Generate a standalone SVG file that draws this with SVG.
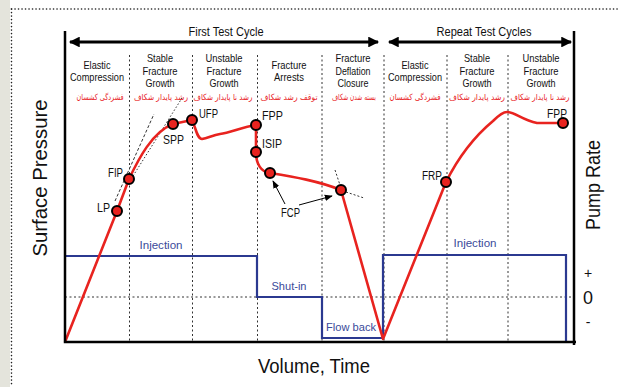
<svg xmlns="http://www.w3.org/2000/svg" width="619" height="387" viewBox="0 0 619 387">
  <defs>
    <marker id="head" viewBox="0 0 10 10" refX="9" refY="5" markerWidth="4" markerHeight="3.6" orient="auto-start-reverse" markerUnits="strokeWidth">
      <path d="M0,0 L10,5 L0,10 Z" fill="#000"/>
    </marker>
    <marker id="smallhead" viewBox="0 0 10 10" refX="9" refY="5" markerWidth="8" markerHeight="8" orient="auto" markerUnits="userSpaceOnUse">
      <path d="M0,1 L10,5 L0,9 Z" fill="#000"/>
    </marker>
  </defs>
  <style>
    .txt { font-family: "Liberation Sans Narrow", "Liberation Sans", Arial, sans-serif; fill: #111; }
    .col { font-size: 10.5px; text-anchor: middle; }
    .fa { font-family: "DejaVu Sans", "Noto Sans", sans-serif; font-size: 8.5px; fill: #e8231f; text-anchor: middle; }
    .pt { font-size: 12.5px; }
    .blue { font-size: 11.5px; fill: #3a4a9a; text-anchor: middle; }
    .axis { fill: none; stroke: #000; stroke-width: 2.5; }
    .div { fill: none; stroke: #333; stroke-width: 1; stroke-dasharray: 2 2.5; }
    .curve { fill: none; stroke: #e8231f; stroke-width: 2.6; stroke-linejoin: round; }
    .rate { fill: none; stroke: #2b3990; stroke-width: 2.2; }
    .dot { fill: #e8231f; stroke: #000; stroke-width: 2; }
    .tan { fill: none; stroke: #333; stroke-width: 1; }
    .span { fill: none; stroke: #000; stroke-width: 3; marker-start: url(#head); marker-end: url(#head); }
  </style>

  <!-- page background and dotted frame -->
  <rect x="0" y="0" width="619" height="387" fill="#fff"/>
  <rect x="0" y="0" width="10" height="387" fill="#e4e4dc"/>
  <line x1="11.5" y1="9" x2="11.5" y2="387" stroke="#222" stroke-width="1.6" stroke-dasharray="0.1 3.4" stroke-linecap="round"/>
  <line x1="11.5" y1="9" x2="619" y2="9" stroke="#222" stroke-width="1.6" stroke-dasharray="0.1 3.4" stroke-linecap="round"/>

  <!-- stage dividers -->
  <g id="dividers">
    <line class="div" x1="129.5" y1="55" x2="129.5" y2="342"/>
    <line class="div" x1="192.5" y1="55" x2="192.5" y2="342"/>
    <line class="div" x1="257.5" y1="55" x2="257.5" y2="342"/>
    <line class="div" x1="322" y1="55" x2="322" y2="342"/>
    <line class="div" x1="384" y1="55" x2="384" y2="342"/>
    <line class="div" x1="447" y1="55" x2="447" y2="342"/>
    <line class="div" x1="508" y1="55" x2="508" y2="342"/>
    <line class="div" x1="65" y1="297" x2="574" y2="297" stroke="#000"/>
  </g>

  <!-- cycle spans -->
  <g id="cycles">
    <line class="span" x1="70" y1="42" x2="378" y2="42"/>
    <text class="txt" x="226" y="36" font-size="13" text-anchor="middle" textLength="75" lengthAdjust="spacingAndGlyphs">First Test Cycle</text>
    <line class="span" x1="389" y1="42" x2="571" y2="42"/>
    <text class="txt" x="484" y="36" font-size="13" text-anchor="middle" textLength="95" lengthAdjust="spacingAndGlyphs">Repeat Test Cycles</text>
  </g>

  <!-- stage labels -->
  <g id="stages">
    <text class="txt col" x="97" y="69" textLength="27" lengthAdjust="spacingAndGlyphs">Elastic</text>
    <text class="txt col" x="97" y="81" textLength="54" lengthAdjust="spacingAndGlyphs">Compression</text>
    <text class="fa" x="100" y="100" textLength="47" lengthAdjust="spacingAndGlyphs">فشردگی کشسان</text>

    <text class="txt col" x="160" y="62" textLength="26" lengthAdjust="spacingAndGlyphs">Stable</text>
    <text class="txt col" x="160" y="75" textLength="35" lengthAdjust="spacingAndGlyphs">Fracture</text>
    <text class="txt col" x="160" y="87" textLength="29" lengthAdjust="spacingAndGlyphs">Growth</text>
    <text class="fa" x="161" y="100" textLength="54" lengthAdjust="spacingAndGlyphs">رشد پایدار شکاف</text>

    <text class="txt col" x="224" y="62" textLength="37" lengthAdjust="spacingAndGlyphs">Unstable</text>
    <text class="txt col" x="224" y="75" textLength="35" lengthAdjust="spacingAndGlyphs">Fracture</text>
    <text class="txt col" x="224" y="87" textLength="29" lengthAdjust="spacingAndGlyphs">Growth</text>
    <text class="fa" x="223" y="100" textLength="59" lengthAdjust="spacingAndGlyphs">رشد نا پایدار شکاف</text>

    <text class="txt col" x="289" y="69" textLength="35" lengthAdjust="spacingAndGlyphs">Fracture</text>
    <text class="txt col" x="289" y="81" textLength="30" lengthAdjust="spacingAndGlyphs">Arrests</text>
    <text class="fa" x="289" y="100" textLength="57" lengthAdjust="spacingAndGlyphs">توقف رشد شکاف</text>

    <text class="txt col" x="353" y="62" textLength="35" lengthAdjust="spacingAndGlyphs">Fracture</text>
    <text class="txt col" x="353" y="75" textLength="35" lengthAdjust="spacingAndGlyphs">Deflation</text>
    <text class="txt col" x="353" y="87" textLength="31" lengthAdjust="spacingAndGlyphs">Closure</text>
    <text class="fa" x="354" y="100" textLength="44" lengthAdjust="spacingAndGlyphs">بسته شدن شکاف</text>

    <text class="txt col" x="415" y="69" textLength="27" lengthAdjust="spacingAndGlyphs">Elastic</text>
    <text class="txt col" x="415" y="81" textLength="54" lengthAdjust="spacingAndGlyphs">Compression</text>
    <text class="fa" x="415" y="100" textLength="51" lengthAdjust="spacingAndGlyphs">فشردگی کشسان</text>

    <text class="txt col" x="477" y="62" textLength="26" lengthAdjust="spacingAndGlyphs">Stable</text>
    <text class="txt col" x="477" y="75" textLength="35" lengthAdjust="spacingAndGlyphs">Fracture</text>
    <text class="txt col" x="477" y="87" textLength="29" lengthAdjust="spacingAndGlyphs">Growth</text>
    <text class="fa" x="477" y="100" textLength="56" lengthAdjust="spacingAndGlyphs">رشد پایدار شکاف</text>

    <text class="txt col" x="541" y="62" textLength="37" lengthAdjust="spacingAndGlyphs">Unstable</text>
    <text class="txt col" x="541" y="75" textLength="35" lengthAdjust="spacingAndGlyphs">Fracture</text>
    <text class="txt col" x="541" y="87" textLength="29" lengthAdjust="spacingAndGlyphs">Growth</text>
    <text class="fa" x="540" y="100" textLength="59" lengthAdjust="spacingAndGlyphs">رشد نا پایدار شکاف</text>
  </g>

  <!-- pump rate schedule -->
  <g id="rate">
    <path class="rate" d="M65,256 H257 V297 H322 V338 H383 V255 H566 V342"/>
    <text class="txt blue" x="161" y="249" textLength="43" lengthAdjust="spacingAndGlyphs">Injection</text>
    <text class="txt blue" x="289" y="290" textLength="35" lengthAdjust="spacingAndGlyphs">Shut-in</text>
    <text class="txt blue" x="351" y="331" textLength="50" lengthAdjust="spacingAndGlyphs">Flow back</text>
    <text class="txt blue" x="475" y="247" textLength="43" lengthAdjust="spacingAndGlyphs">Injection</text>
  </g>

  <!-- tangent construction lines -->
  <g id="tangents">
    <line class="tan" x1="115" y1="201" x2="154" y2="114" stroke-dasharray="3 2"/>
    <line class="tan" x1="133" y1="176" x2="182" y2="98" stroke-dasharray="1.5 2"/>
    <line class="tan" x1="335" y1="170" x2="340" y2="185" stroke-dasharray="2 2"/>
    <line class="tan" x1="346" y1="192" x2="364" y2="198" stroke-dasharray="2 2"/>
  </g>

  <!-- surface pressure curve -->
  <g id="pressure">
    <path class="curve" d="M65,342 L117,211 L129,179 C138,160 152,132 173,124 L192,120 C196,128 197,139 202,139 C208,138 213,135 220,134 C230,133 242,127 256,125 L256,152 C256,164 261,172 270,173 C295,177 318,181 341,190 L383,339 L446,182 C458,158 475,136 493,121 C499,115 503,112 507,112 C515,112 522,120 537,123 L563,123"/>
  </g>

  <!-- key points -->
  <g id="points">
    <circle class="dot" cx="117" cy="211" r="5"/>
    <circle class="dot" cx="129" cy="179" r="5"/>
    <circle class="dot" cx="173" cy="124" r="5"/>
    <circle class="dot" cx="192" cy="120" r="5"/>
    <circle class="dot" cx="256" cy="125" r="5"/>
    <circle class="dot" cx="256" cy="152" r="5"/>
    <circle class="dot" cx="270" cy="173" r="5"/>
    <circle class="dot" cx="341" cy="190" r="5"/>
    <circle class="dot" cx="446" cy="182" r="5"/>
    <circle class="dot" cx="563" cy="123" r="5"/>
    <text class="txt pt" x="97" y="212" textLength="13" lengthAdjust="spacingAndGlyphs">LP</text>
    <text class="txt pt" x="108" y="177" textLength="15" lengthAdjust="spacingAndGlyphs">FIP</text>
    <text class="txt pt" x="163" y="144" textLength="21" lengthAdjust="spacingAndGlyphs">SPP</text>
    <text class="txt pt" x="199" y="118" textLength="19" lengthAdjust="spacingAndGlyphs">UFP</text>
    <text class="txt pt" x="262" y="120" textLength="21" lengthAdjust="spacingAndGlyphs">FPP</text>
    <text class="txt pt" x="262" y="148" textLength="20" lengthAdjust="spacingAndGlyphs">ISIP</text>
    <text class="txt pt" x="422" y="180" textLength="20" lengthAdjust="spacingAndGlyphs">FRP</text>
    <text class="txt pt" x="547" y="118" textLength="20" lengthAdjust="spacingAndGlyphs">FPP</text>
    <text class="txt pt" x="281" y="217" textLength="19" lengthAdjust="spacingAndGlyphs">FCP</text>
  </g>

  <!-- FCP pointers -->
  <g id="connectors">
    <line x1="285" y1="204" x2="273" y2="181" stroke="#000" stroke-width="1" marker-end="url(#smallhead)"/>
    <line x1="299" y1="205" x2="332" y2="196" stroke="#000" stroke-width="1" marker-end="url(#smallhead)"/>
  </g>

  <!-- axes -->
  <g id="axes">
    <path class="axis" d="M65,31 V342 H576"/>
    <line class="axis" x1="574" y1="31" x2="574" y2="345"/>
    <text class="txt" x="588" y="278" font-size="14" text-anchor="middle">+</text>
    <text class="txt" x="588" y="304" font-size="19" text-anchor="middle" textLength="10" lengthAdjust="spacingAndGlyphs">0</text>
    <text class="txt" x="588" y="327" font-size="14" text-anchor="middle">-</text>
    <text class="txt" x="314" y="373" font-size="20" text-anchor="middle" textLength="112" lengthAdjust="spacingAndGlyphs">Volume, Time</text>
    <text class="txt" transform="translate(47,178) rotate(-90)" font-size="20" text-anchor="middle" textLength="157" lengthAdjust="spacingAndGlyphs">Surface Pressure</text>
    <text class="txt" transform="translate(600,185) rotate(-90)" font-size="20" text-anchor="middle" textLength="90" lengthAdjust="spacingAndGlyphs">Pump Rate</text>
  </g>
</svg>
